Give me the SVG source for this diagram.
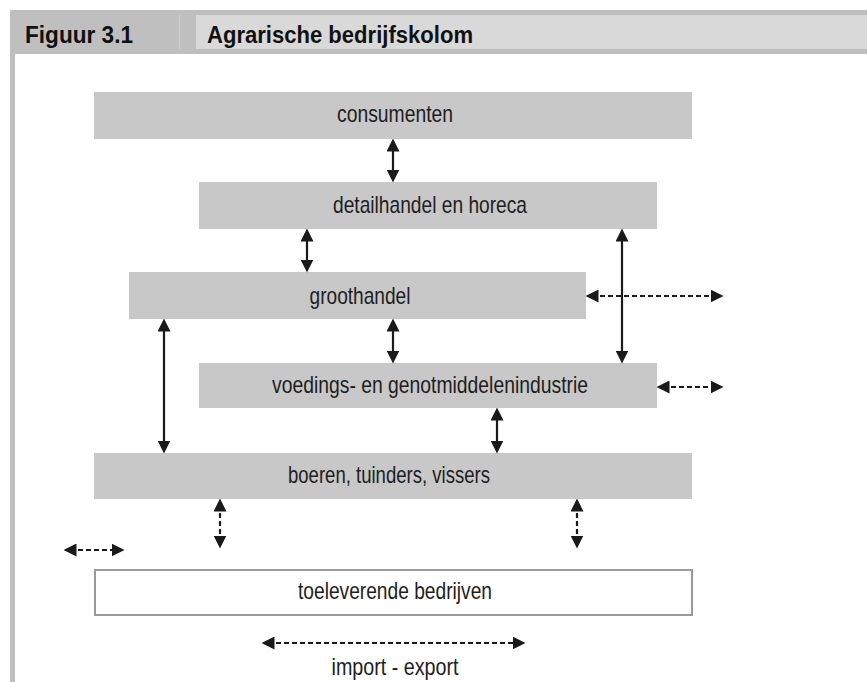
<svg xmlns="http://www.w3.org/2000/svg" width="867" height="682" viewBox="0 0 867 682">
<style>
.box{fill:#c8c8c8}
.wbox{fill:#ffffff;stroke:#9a9a9a;stroke-width:2}
.lbl{font-family:"Liberation Sans",Arial,sans-serif;font-size:24px;fill:#1e1e1e;text-anchor:middle}
.hdr{font-family:"Liberation Sans",Arial,sans-serif;font-size:24px;font-weight:bold;fill:#111}
.solid{stroke:#1a1a1a;stroke-width:2.2;fill:none;marker-start:url(#ah);marker-end:url(#ah)}
.dash{stroke:#1a1a1a;stroke-width:2.2;fill:none;stroke-dasharray:5 3;marker-start:url(#ah);marker-end:url(#ah)}
</style>
<defs>
<marker id="ah" viewBox="0 0 13 13" refX="6.5" refY="6.5" markerWidth="13" markerHeight="13" markerUnits="userSpaceOnUse" orient="auto-start-reverse">
<path d="M0,0 L13,6.5 L0,13 Z" fill="#1a1a1a"/>
</marker>
</defs>
<rect width="867" height="682" fill="#ffffff"/>
<g id="frame">
<rect x="10" y="10" width="5" height="672" fill="#bfbfbf"/>
<rect x="10" y="10" width="857" height="44" fill="#bfbfbf"/>
<rect x="196" y="15" width="671" height="34" fill="#d9d9d9"/>
<rect x="179" y="15" width="1" height="34" fill="#cfcfcf"/>
<text class="hdr" x="25" y="43" textLength="108" lengthAdjust="spacingAndGlyphs">Figuur 3.1</text>
<text class="hdr" x="207" y="43" textLength="266" lengthAdjust="spacingAndGlyphs">Agrarische bedrijfskolom</text>
</g>
<g id="consumenten">
<rect class="box" x="94" y="92" width="598" height="47"/>
<text class="lbl" x="395" y="122" textLength="116" lengthAdjust="spacingAndGlyphs">consumenten</text>
</g>
<g id="detailhandel">
<rect class="box" x="199" y="182" width="458" height="47"/>
<text class="lbl" x="430" y="213" textLength="194" lengthAdjust="spacingAndGlyphs">detailhandel en horeca</text>
</g>
<g id="groothandel">
<rect class="box" x="129" y="272" width="457" height="47"/>
<text class="lbl" x="360" y="304" textLength="101" lengthAdjust="spacingAndGlyphs">groothandel</text>
</g>
<g id="industrie">
<rect class="box" x="199" y="363" width="458" height="45"/>
<text class="lbl" x="430" y="393" textLength="316" lengthAdjust="spacingAndGlyphs">voedings- en genotmiddelenindustrie</text>
</g>
<g id="boeren">
<rect class="box" x="94" y="453" width="598" height="46"/>
<text class="lbl" x="389" y="483" textLength="202" lengthAdjust="spacingAndGlyphs">boeren, tuinders, vissers</text>
</g>
<g id="toeleverende">
<rect class="wbox" x="95" y="570" width="597" height="45"/>
<text class="lbl" x="395" y="599" textLength="194" lengthAdjust="spacingAndGlyphs">toeleverende bedrijven</text>
</g>
<g id="connectors">
<line class="solid" x1="393" y1="145" x2="393" y2="176"/>
<line class="solid" x1="307" y1="235" x2="307" y2="266"/>
<line class="solid" x1="622" y1="235" x2="622" y2="357"/>
<line class="solid" x1="164" y1="325" x2="164" y2="447"/>
<line class="solid" x1="393" y1="325" x2="393" y2="357"/>
<line class="solid" x1="497" y1="414" x2="497" y2="447"/>
<line class="dash" x1="592" y1="296" x2="717" y2="296"/>
<line class="dash" x1="663" y1="387" x2="717" y2="387"/>
<line class="dash" x1="220" y1="505" x2="220" y2="542"/>
<line class="dash" x1="577" y1="505" x2="577" y2="542"/>
<line class="dash" x1="70" y1="550" x2="118" y2="550"/>
<line class="dash" x1="268" y1="643" x2="519" y2="643"/>
<text class="lbl" x="395" y="675" textLength="127" lengthAdjust="spacingAndGlyphs">import - export</text>
</g>
</svg>
